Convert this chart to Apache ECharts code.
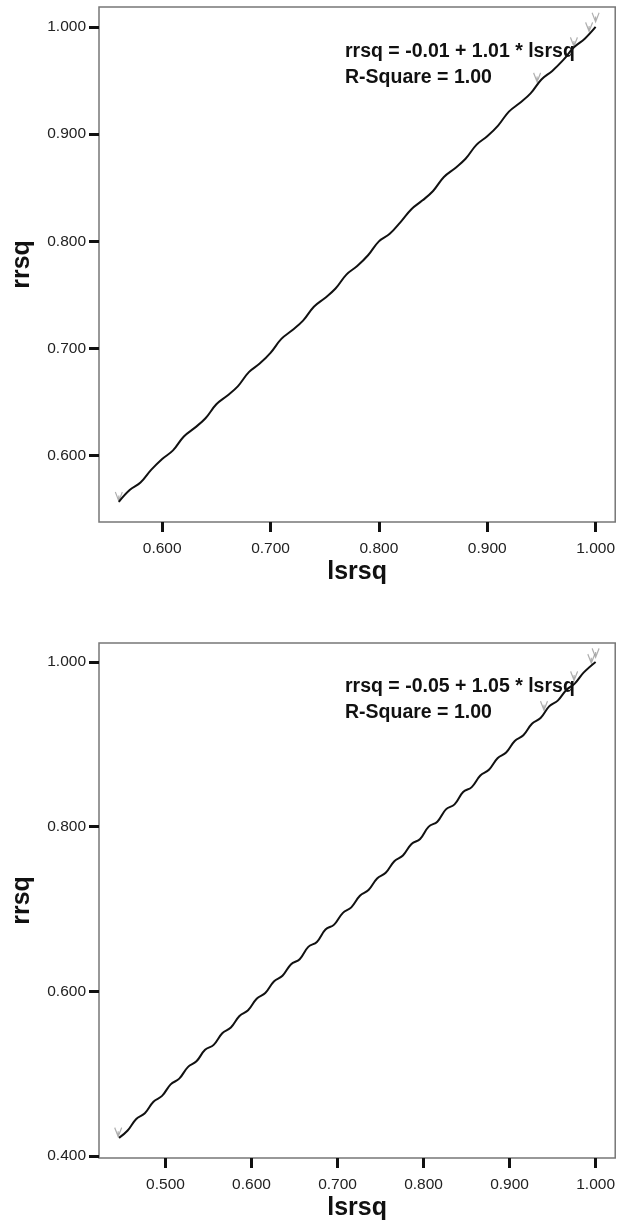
<!DOCTYPE html>
<html>
<head>
<meta charset="utf-8">
<script src="https://cdn.jsdelivr.net/npm/echarts@6/dist/echarts.min.js"></script>
<style>
    html, body { margin: 0; padding: 0; background: #fff; }
    #chart { width: 618px; height: 1224px; }
</style>
</head>
<body>
<div id="chart"></div>
<script>
    // top panel: rrsq vs lsrsq (dense points)
    const topLsrsq = [0.560, 0.570, 0.580, 0.590, 0.600, 0.610, 0.620, 0.630, 0.640, 0.650,
        0.660, 0.670, 0.680, 0.690, 0.700, 0.710, 0.720, 0.730, 0.740, 0.750,
        0.760, 0.770, 0.780, 0.790, 0.800, 0.810, 0.820, 0.830, 0.840, 0.850,
        0.860, 0.870, 0.880, 0.890, 0.900, 0.910, 0.920, 0.930, 0.940, 0.950,
        0.960, 0.970, 0.980, 0.990, 1.000];
    const topRrsq = [0.557, 0.568, 0.575, 0.587, 0.597, 0.605, 0.618, 0.626, 0.635, 0.648,
        0.656, 0.665, 0.678, 0.686, 0.696, 0.709, 0.717, 0.726, 0.739, 0.747,
        0.756, 0.769, 0.777, 0.787, 0.800, 0.807, 0.818, 0.830, 0.838, 0.847,
        0.860, 0.868, 0.877, 0.890, 0.898, 0.908, 0.921, 0.929, 0.938, 0.951,
        0.959, 0.969, 0.981, 0.989, 1.000];
    // grey marks near the ends
    const topGreyX = [0.560, 0.946, 0.980, 0.994, 1.000];
    const topGreyY = [0.562, 0.953, 0.986, 1.000, 1.009];

    // bottom panel
    const botLsrsq = [0.446, 0.456, 0.466, 0.476, 0.486, 0.496, 0.506, 0.516, 0.526, 0.536,
        0.546, 0.556, 0.566, 0.576, 0.586, 0.596, 0.606, 0.616, 0.626, 0.636,
        0.646, 0.656, 0.666, 0.676, 0.686, 0.696, 0.706, 0.716, 0.726, 0.736,
        0.746, 0.756, 0.766, 0.776, 0.786, 0.796, 0.806, 0.816, 0.826, 0.836,
        0.846, 0.856, 0.866, 0.876, 0.886, 0.896, 0.906, 0.916, 0.926, 0.936,
        0.946, 0.956, 0.966, 0.976, 0.986, 1.000];
    const botRrsq = [0.422, 0.431, 0.445, 0.452, 0.466, 0.473, 0.487, 0.494, 0.508, 0.515,
        0.529, 0.535, 0.549, 0.556, 0.570, 0.577, 0.591, 0.598, 0.612, 0.619,
        0.633, 0.639, 0.654, 0.660, 0.675, 0.681, 0.695, 0.702, 0.716, 0.723,
        0.737, 0.744, 0.758, 0.765, 0.779, 0.785, 0.800, 0.806, 0.821, 0.827,
        0.842, 0.848, 0.862, 0.869, 0.883, 0.890, 0.904, 0.911, 0.925, 0.932,
        0.946, 0.953, 0.966, 0.974, 0.987, 1.000];
    const botGreyX = [0.445, 0.940, 0.975, 0.995, 1.000];
    const botGreyY = [0.429, 0.947, 0.983, 1.004, 1.011];

    // tick labels
    const topXTicks = [0.6, 0.7, 0.8, 0.9, 1.0];
    const topYTicks = [0.6, 0.7, 0.8, 0.9, 1.0];
    const botXTicks = [0.5, 0.6, 0.7, 0.8, 0.9, 1.0];
    const botYTicks = [0.4, 0.6, 0.8, 1.0];

    const topEquation = ['rrsq = -0.01 + 1.01 * lsrsq', 'R-Square = 1.00'];
    const botEquation = ['rrsq = -0.05 + 1.05 * lsrsq', 'R-Square = 1.00'];

    const FONT = 'Liberation Sans, Arial, sans-serif';

    function pairs(xs, ys) {
        return xs.map((x, i) => [x, ys[i]]);
    }

    function makeAxis(idx, ticks, min, max, name, isY) {
        return {
            type: 'value',
            gridIndex: idx,
            min: min,
            max: max,
            name: name,
            nameLocation: 'middle',
            nameGap: isY ? 64 : 38,
            nameRotate: isY ? 90 : 0,
            nameTextStyle: {fontFamily: FONT, fontSize: 25, fontWeight: 'bold', color: '#111'},
            axisLine: {show: false},
            splitLine: {show: false},
            axisTick: {
                show: true, length: 10, customValues: ticks,
                lineStyle: {color: '#111', width: 3}
            },
            axisLabel: {
                customValues: ticks,
                margin: isY ? 13 : 19,
                fontFamily: FONT, fontSize: 15.5, color: '#222',
                formatter: v => v.toFixed(3)
            }
        };
    }

    function lineSeries(idx, data) {
        return {
            type: 'line', xAxisIndex: idx, yAxisIndex: idx,
            data: data, showSymbol: false, smooth: 0.4,
            lineStyle: {color: '#111', width: 2}
        };
    }

    function greySeries(idx, data) {
        return {
            type: 'scatter', xAxisIndex: idx, yAxisIndex: idx,
            data: data,
            symbol: 'path://M0,0L5,10L10,0M5,10L5,4',
            symbolSize: [7, 9],
            itemStyle: {color: 'rgba(0,0,0,0)', borderColor: '#9a9a9a', borderWidth: 1.3}
        };
    }

    function eqText(lines, top) {
        return lines.map((t, i) => ({
            type: 'text', left: 345, top: top + i * 25.3,
            style: {text: t, fontFamily: FONT, fontSize: 19.5, fontWeight: 'bold', fill: '#111'}
        }));
    }

    const chart = echarts.init(document.getElementById('chart'));
    chart.setOption({
        animation: false,
        backgroundColor: '#fff',
        grid: [
            {left: 99, top: 7, width: 519, height: 515, show: true,
                borderColor: '#777', borderWidth: 1.5, backgroundColor: '#fff'},
            {left: 99, top: 643, width: 519, height: 515, show: true,
                borderColor: '#777', borderWidth: 1.5, backgroundColor: '#fff'}
        ],
        xAxis: [
            makeAxis(0, topXTicks, 0.5417, 1.0181, 'lsrsq', false),
            makeAxis(1, botXTicks, 0.4227, 1.0228, 'lsrsq', false)
        ],
        yAxis: [
            makeAxis(0, topYTicks, 0.5382, 1.0186, 'rrsq', true),
            makeAxis(1, botYTicks, 0.3976, 1.0230, 'rrsq', true)
        ],
        series: [
            lineSeries(0, pairs(topLsrsq, topRrsq)),
            greySeries(0, pairs(topGreyX, topGreyY)),
            lineSeries(1, pairs(botLsrsq, botRrsq)),
            greySeries(1, pairs(botGreyX, botGreyY))
        ],
        graphic: eqText(topEquation, 42).concat(eqText(botEquation, 677))
    });
</script>
</body>
</html>
